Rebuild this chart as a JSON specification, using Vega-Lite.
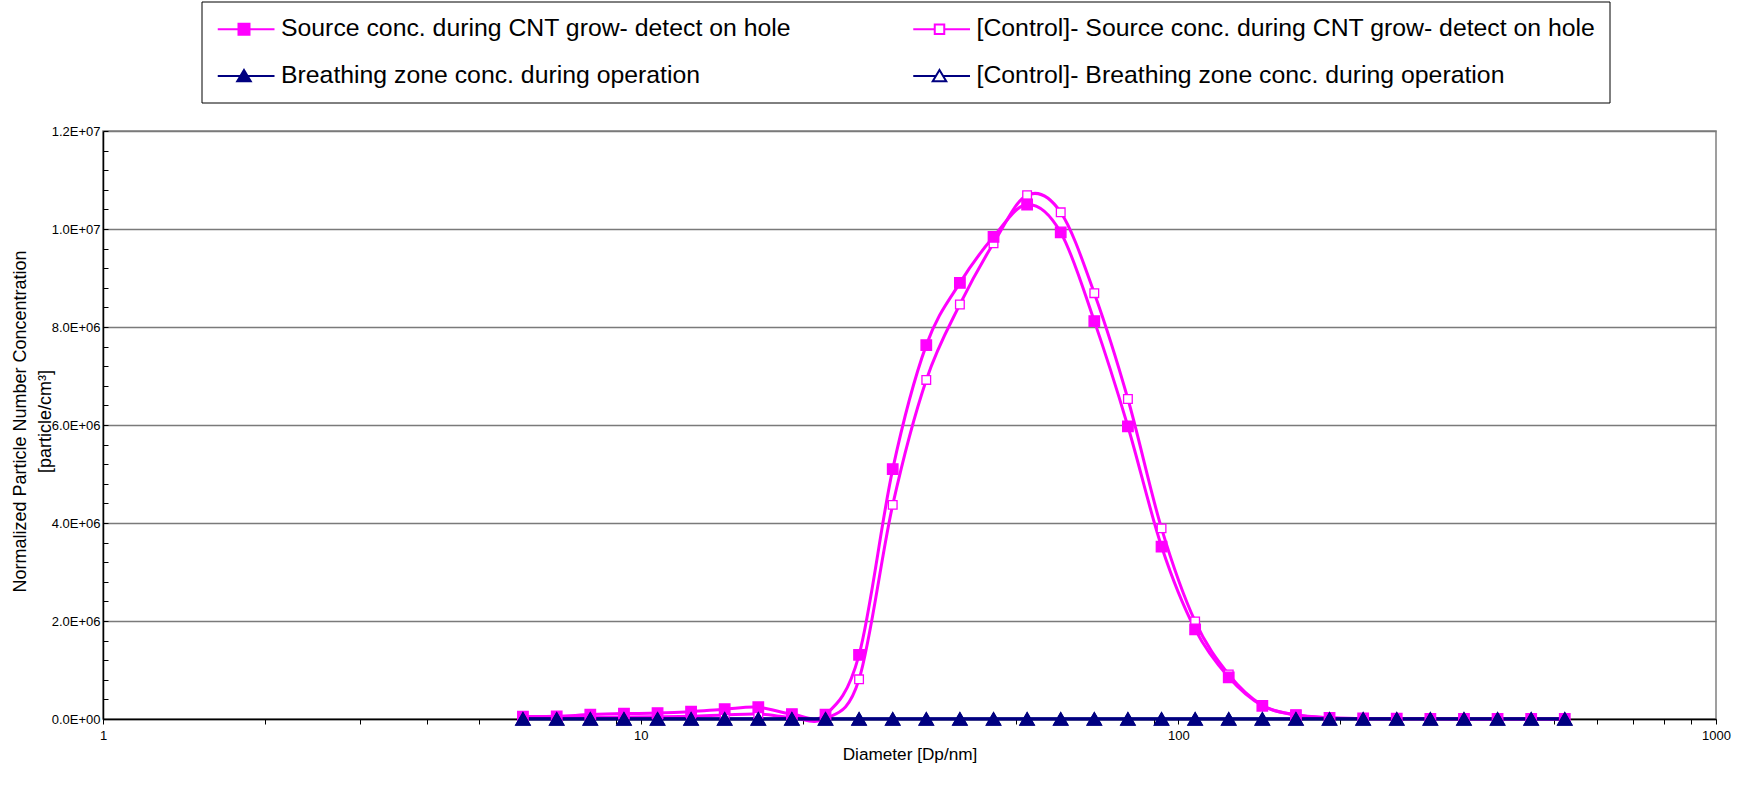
{
  "$schema": "https://vega.github.io/schema/vega-lite/v6.json",
  "width": 1613,
  "height": 588,
  "autosize": {"type": "none"},
  "padding": {"left": 103, "top": 131, "right": 32, "bottom": 71},
  "background": "white",
  "config": {
    "font": "Liberation Sans",
    "view": {"stroke": "#808080", "strokeWidth": 1.5},
    "axis": {"labelColor": "black", "titleColor": "black", "titleFontWeight": "normal", "domainColor": "black", "tickColor": "black", "domainWidth": 1.5}
  },
  "data": {
    "values": [
      {"d": 6.04, "series": "ctl_src", "conc": 25000},
      {"d": 6.98, "series": "ctl_src", "conc": 25000},
      {"d": 8.06, "series": "ctl_src", "conc": 35000},
      {"d": 9.31, "series": "ctl_src", "conc": 40000},
      {"d": 10.75, "series": "ctl_src", "conc": 45000},
      {"d": 12.41, "series": "ctl_src", "conc": 55000},
      {"d": 14.33, "series": "ctl_src", "conc": 80000},
      {"d": 16.55, "series": "ctl_src", "conc": 100000},
      {"d": 19.11, "series": "ctl_src", "conc": 30000},
      {"d": 22.07, "series": "ctl_src", "conc": 5000},
      {"d": 25.48, "series": "ctl_src", "conc": 810000},
      {"d": 29.43, "series": "ctl_src", "conc": 4370000},
      {"d": 33.98, "series": "ctl_src", "conc": 6920000},
      {"d": 39.24, "series": "ctl_src", "conc": 8460000},
      {"d": 45.32, "series": "ctl_src", "conc": 9710000},
      {"d": 52.33, "series": "ctl_src", "conc": 10690000},
      {"d": 60.43, "series": "ctl_src", "conc": 10340000},
      {"d": 69.78, "series": "ctl_src", "conc": 8690000},
      {"d": 80.58, "series": "ctl_src", "conc": 6530000},
      {"d": 93.06, "series": "ctl_src", "conc": 3890000},
      {"d": 107.46, "series": "ctl_src", "conc": 1990000},
      {"d": 124.09, "series": "ctl_src", "conc": 910000},
      {"d": 143.3, "series": "ctl_src", "conc": 280000},
      {"d": 165.48, "series": "ctl_src", "conc": 85000},
      {"d": 191.09, "series": "ctl_src", "conc": 25000},
      {"d": 220.67, "series": "ctl_src", "conc": 10000},
      {"d": 254.83, "series": "ctl_src", "conc": 5000},
      {"d": 294.27, "series": "ctl_src", "conc": 3000},
      {"d": 339.82, "series": "ctl_src", "conc": 2000},
      {"d": 392.42, "series": "ctl_src", "conc": 1000},
      {"d": 453.16, "series": "ctl_src", "conc": 1000},
      {"d": 523.3, "series": "ctl_src", "conc": 500},
      {"d": 6.04, "series": "src", "conc": 50000},
      {"d": 6.98, "series": "src", "conc": 55000},
      {"d": 8.06, "series": "src", "conc": 90000},
      {"d": 9.31, "series": "src", "conc": 110000},
      {"d": 10.75, "series": "src", "conc": 120000},
      {"d": 12.41, "series": "src", "conc": 150000},
      {"d": 14.33, "series": "src", "conc": 200000},
      {"d": 16.55, "series": "src", "conc": 240000},
      {"d": 19.11, "series": "src", "conc": 100000},
      {"d": 22.07, "series": "src", "conc": 90000},
      {"d": 25.48, "series": "src", "conc": 1310000},
      {"d": 29.43, "series": "src", "conc": 5100000},
      {"d": 33.98, "series": "src", "conc": 7630000},
      {"d": 39.24, "series": "src", "conc": 8900000},
      {"d": 45.32, "series": "src", "conc": 9840000},
      {"d": 52.33, "series": "src", "conc": 10500000},
      {"d": 60.43, "series": "src", "conc": 9930000},
      {"d": 69.78, "series": "src", "conc": 8120000},
      {"d": 80.58, "series": "src", "conc": 5970000},
      {"d": 93.06, "series": "src", "conc": 3520000},
      {"d": 107.46, "series": "src", "conc": 1830000},
      {"d": 124.09, "series": "src", "conc": 850000},
      {"d": 143.3, "series": "src", "conc": 270000},
      {"d": 165.48, "series": "src", "conc": 80000},
      {"d": 191.09, "series": "src", "conc": 25000},
      {"d": 220.67, "series": "src", "conc": 10000},
      {"d": 254.83, "series": "src", "conc": 5000},
      {"d": 294.27, "series": "src", "conc": 3000},
      {"d": 339.82, "series": "src", "conc": 2000},
      {"d": 392.42, "series": "src", "conc": 1000},
      {"d": 453.16, "series": "src", "conc": 1000},
      {"d": 523.3, "series": "src", "conc": 500},
      {"d": 6.04, "series": "ctl_bz", "conc": 1500},
      {"d": 6.98, "series": "ctl_bz", "conc": 1500},
      {"d": 8.06, "series": "ctl_bz", "conc": 1500},
      {"d": 9.31, "series": "ctl_bz", "conc": 1500},
      {"d": 10.75, "series": "ctl_bz", "conc": 1500},
      {"d": 12.41, "series": "ctl_bz", "conc": 1500},
      {"d": 14.33, "series": "ctl_bz", "conc": 1500},
      {"d": 16.55, "series": "ctl_bz", "conc": 1500},
      {"d": 19.11, "series": "ctl_bz", "conc": 1500},
      {"d": 22.07, "series": "ctl_bz", "conc": 1500},
      {"d": 25.48, "series": "ctl_bz", "conc": 1500},
      {"d": 29.43, "series": "ctl_bz", "conc": 1500},
      {"d": 33.98, "series": "ctl_bz", "conc": 1500},
      {"d": 39.24, "series": "ctl_bz", "conc": 1500},
      {"d": 45.32, "series": "ctl_bz", "conc": 1500},
      {"d": 52.33, "series": "ctl_bz", "conc": 1500},
      {"d": 60.43, "series": "ctl_bz", "conc": 1500},
      {"d": 69.78, "series": "ctl_bz", "conc": 1500},
      {"d": 80.58, "series": "ctl_bz", "conc": 1500},
      {"d": 93.06, "series": "ctl_bz", "conc": 1500},
      {"d": 107.46, "series": "ctl_bz", "conc": 1500},
      {"d": 124.09, "series": "ctl_bz", "conc": 1500},
      {"d": 143.3, "series": "ctl_bz", "conc": 1500},
      {"d": 165.48, "series": "ctl_bz", "conc": 1500},
      {"d": 191.09, "series": "ctl_bz", "conc": 1500},
      {"d": 220.67, "series": "ctl_bz", "conc": 1500},
      {"d": 254.83, "series": "ctl_bz", "conc": 1500},
      {"d": 294.27, "series": "ctl_bz", "conc": 1500},
      {"d": 339.82, "series": "ctl_bz", "conc": 1500},
      {"d": 392.42, "series": "ctl_bz", "conc": 1500},
      {"d": 453.16, "series": "ctl_bz", "conc": 1500},
      {"d": 523.3, "series": "ctl_bz", "conc": 1500},
      {"d": 6.04, "series": "bz", "conc": 3000},
      {"d": 6.98, "series": "bz", "conc": 3000},
      {"d": 8.06, "series": "bz", "conc": 3000},
      {"d": 9.31, "series": "bz", "conc": 3000},
      {"d": 10.75, "series": "bz", "conc": 3000},
      {"d": 12.41, "series": "bz", "conc": 3000},
      {"d": 14.33, "series": "bz", "conc": 3000},
      {"d": 16.55, "series": "bz", "conc": 3000},
      {"d": 19.11, "series": "bz", "conc": 3000},
      {"d": 22.07, "series": "bz", "conc": 3000},
      {"d": 25.48, "series": "bz", "conc": 3000},
      {"d": 29.43, "series": "bz", "conc": 3000},
      {"d": 33.98, "series": "bz", "conc": 3000},
      {"d": 39.24, "series": "bz", "conc": 3000},
      {"d": 45.32, "series": "bz", "conc": 3000},
      {"d": 52.33, "series": "bz", "conc": 3000},
      {"d": 60.43, "series": "bz", "conc": 3000},
      {"d": 69.78, "series": "bz", "conc": 3000},
      {"d": 80.58, "series": "bz", "conc": 3000},
      {"d": 93.06, "series": "bz", "conc": 3000},
      {"d": 107.46, "series": "bz", "conc": 3000},
      {"d": 124.09, "series": "bz", "conc": 3000},
      {"d": 143.3, "series": "bz", "conc": 3000},
      {"d": 165.48, "series": "bz", "conc": 3000},
      {"d": 191.09, "series": "bz", "conc": 3000},
      {"d": 220.67, "series": "bz", "conc": 3000},
      {"d": 254.83, "series": "bz", "conc": 3000},
      {"d": 294.27, "series": "bz", "conc": 3000},
      {"d": 339.82, "series": "bz", "conc": 3000},
      {"d": 392.42, "series": "bz", "conc": 3000},
      {"d": 453.16, "series": "bz", "conc": 3000},
      {"d": 523.3, "series": "bz", "conc": 3000}
    ]
  },
  "encoding": {
    "x": {
      "field": "d",
      "type": "quantitative",
      "scale": {"type": "log", "domain": [1, 1000], "nice": false},
      "axis": {
        "title": "Diameter [Dp/nm]",
        "values": [1, 2, 3, 4, 5, 6, 7, 8, 9, 10, 20, 30, 40, 50, 60, 70, 80, 90, 100, 200, 300, 400, 500, 600, 700, 800, 900, 1000],
        "format": "d",
        "labelExpr": "(datum.value == 1 || datum.value == 10 || datum.value == 100 || datum.value == 1000) ? datum.label : ''",
        "grid": false,
        "tickSize": 5,
        "labelFontSize": 13,
        "labelPadding": 5,
        "labelFlush": false,
        "labelOverlap": false,
        "titleFontSize": 17.2,
        "titlePadding": 3
      }
    },
    "y": {
      "field": "conc",
      "type": "quantitative",
      "scale": {"domain": [0, 12000000], "nice": false, "zero": false},
      "axis": {
        "title": ["Normalized Particle Number  Concentration", "[particle/cm³]"],
        "values": [0, 400000, 800000, 1200000, 1600000, 2000000, 2400000, 2800000, 3200000, 3600000, 4000000, 4400000, 4800000, 5200000, 5600000, 6000000, 6400000, 6800000, 7200000, 7600000, 8000000, 8400000, 8800000, 9200000, 9600000, 10000000, 10400000, 10800000, 11200000, 11600000, 12000000],
        "labelExpr": "datum.value % 2000000 == 0 ? replace(format(datum.value, '.1e'), 'e+', 'E+0') : ''",
        "grid": true,
        "gridColor": "#7a7a7a",
        "gridWidth": 1.5,
        "gridOpacity": {"condition": {"test": "datum.value % 2000000 == 0", "value": 1}, "value": 0},
        "tickSize": -5,
        "labelFontSize": 13,
        "labelPadding": 8,
        "labelOverlap": false,
        "titleFontSize": 18,
        "titleX": -83,
        "titleY": 290,
        "titleBaseline": "middle",
        "titleLineHeight": 25
      }
    }
  },
  "layer": [
    {
      "mark": {"type": "line", "interpolate": "cardinal", "clip": false},
      "encoding": {
        "color": {
          "field": "series",
          "type": "nominal",
          "scale": {"domain": ["ctl_src", "src", "ctl_bz", "bz"], "range": ["#ff00ff", "#ff00ff", "#000080", "#000080"]},
          "legend": null
        },
        "strokeWidth": {
          "field": "series",
          "type": "nominal",
          "scale": {"domain": ["bz", "ctl_bz", "src", "ctl_src"], "range": [3, 3, 2, 2]},
          "legend": null
        }
      }
    },
    {
      "transform": [{"filter": "datum.series == 'ctl_src'"}],
      "mark": {"type": "point", "shape": "square", "filled": true, "fill": "#ffffff", "stroke": "#ff00ff", "strokeWidth": 1.3, "size": 75, "opacity": 1},
      "encoding": {}
    },
    {
      "transform": [{"filter": "datum.series == 'src'"}],
      "mark": {"type": "point", "shape": "square", "filled": true, "fill": "#ff00ff", "stroke": "#ff00ff", "strokeWidth": 1.3, "size": 110, "opacity": 1},
      "encoding": {}
    },
    {
      "transform": [{"filter": "datum.series == 'ctl_bz'"}],
      "mark": {"type": "point", "shape": "triangle-up", "filled": true, "fill": "#ffffff", "stroke": "#000080", "strokeWidth": 1.3, "size": 190, "opacity": 1},
      "encoding": {}
    },
    {
      "transform": [{"filter": "datum.series == 'bz'"}],
      "mark": {"type": "point", "shape": "triangle-up", "filled": true, "fill": "#000080", "stroke": "#000080", "strokeWidth": 1.3, "size": 210, "opacity": 1},
      "encoding": {}
    },
    {
      "transform": [{"filter": "false"}],
      "mark": {"type": "point", "filled": true, "strokeWidth": 2, "size": 625},
      "encoding": {
        "shape": {
          "field": "series",
          "type": "nominal",
          "scale": {
            "domain": ["src", "ctl_src", "bz", "ctl_bz"],
            "range": [
              "M-2.1,0H2.44M-0.44,-0.44H0.44V0.44H-0.44Z",
              "M-2.1,0H-0.38M0.38,0H2.44M-0.38,-0.38H0.38V0.38H-0.38Z",
              "M-2.1,0H2.44M0,-0.48L0.54,0.42L-0.54,0.42Z",
              "M-2.1,0H-0.28M0.28,0H2.44M0,-0.48L0.54,0.42L-0.54,0.42Z"
            ]
          },
          "legend": {
            "title": null,
            "orient": "none",
            "direction": "horizontal",
            "legendX": 98.5,
            "legendY": -129.5,
            "columns": 2,
            "columnPadding": 117.5,
            "rowPadding": 21,
            "padding": 14,
            "strokeColor": "black",
            "fillColor": "white",
            "labelFontSize": 24.8,
            "labelColor": "black",
            "labelLimit": 0,
            "labelOffset": 23.5,
            "symbolOffset": 15,
            "symbolSize": 625,
            "symbolStrokeWidth": 2,
            "symbolOpacity": 1,
            "labelExpr": "datum.value == 'src' ? 'Source conc. during CNT grow- detect on hole' : datum.value == 'ctl_src' ? '[Control]- Source conc. during CNT grow- detect on hole' : datum.value == 'bz' ? 'Breathing zone conc. during operation' : '[Control]- Breathing zone conc. during operation'"
          }
        },
        "fill": {
          "field": "series",
          "type": "nominal",
          "scale": {"domain": ["src", "ctl_src", "bz", "ctl_bz"], "range": ["#ff00ff", "#ffffff", "#000080", "#ffffff"]}
        },
        "stroke": {
          "field": "series",
          "type": "nominal",
          "scale": {"domain": ["src", "ctl_src", "bz", "ctl_bz"], "range": ["#ff00ff", "#ff00ff", "#000080", "#000080"]}
        }
      }
    }
  ]
}
